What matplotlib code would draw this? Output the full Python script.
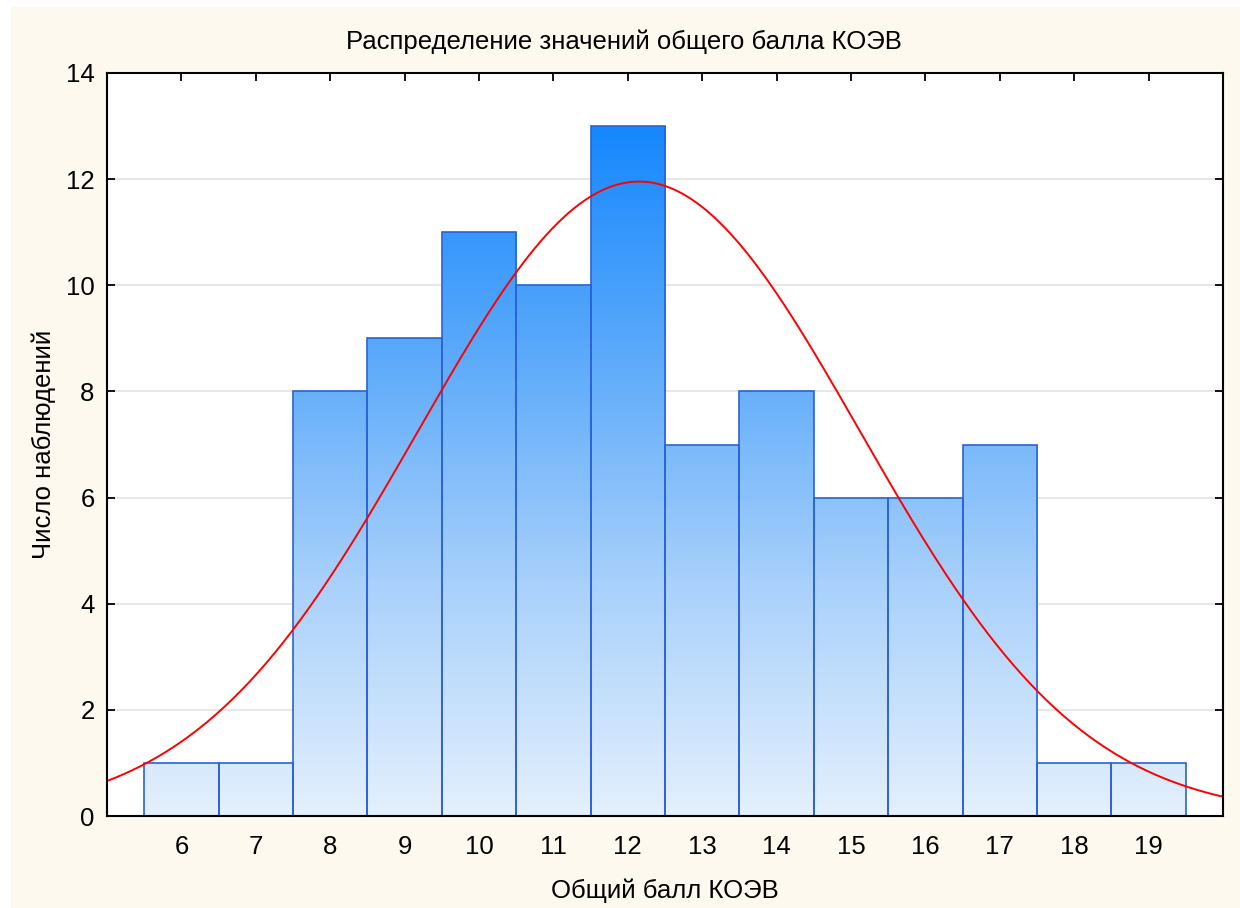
import numpy as np
import matplotlib.pyplot as plt
from matplotlib.patches import Rectangle
from matplotlib.colors import LinearSegmentedColormap

plt.rcParams['font.family'] = ['Liberation Sans', 'DejaVu Sans']

# частоты по баллам КОЭВ
scores = [6, 7, 8, 9, 10, 11, 12, 13, 14, 15, 16, 17, 18, 19]
counts = [1, 1, 8, 9, 11, 10, 13, 7, 8, 6, 6, 7, 1, 1]

# параметры нормальной кривой
mean_score = 12.15
sd_score = 2.97
n_obs = sum(counts)
bin_width = 1.0

fig = plt.figure(figsize=(12.4, 9.08), dpi=100, facecolor='white')
# кремовый фон с белой полосой слева и сверху
fig.patches.append(Rectangle((11 / 1240, 0), 1, 1 - 7 / 908, transform=fig.transFigure,
                             facecolor='#fef9ee', edgecolor='none', zorder=-10))

ax = fig.add_axes([107 / 1240, 1 - 816 / 908, (1223 - 107) / 1240, (816 - 73) / 908])
ax.set_facecolor('white')

ymax_bar = max(counts)
cmap = LinearSegmentedColormap.from_list('bars', ['#e4f0fd', '#a9d1fb', '#5caafa', '#1687fe'])
grad = np.linspace(0, 1, 256).reshape(-1, 1)

for s, c in zip(scores, counts):
    left = s - bin_width / 2
    rect = Rectangle((left, 0), bin_width, c, facecolor='none',
                     edgecolor='#2b62d6', linewidth=1.2, zorder=3)
    ax.add_patch(rect)
    img = ax.imshow(grad, cmap=cmap, origin='lower', aspect='auto',
                    extent=(left, left + bin_width, 0, ymax_bar), zorder=2,
                    interpolation='bilinear')
    img.set_clip_path(rect)

x = np.linspace(5, 20, 400)
y = n_obs * bin_width / (sd_score * np.sqrt(2 * np.pi)) * np.exp(-(x - mean_score) ** 2 / (2 * sd_score ** 2))
ax.plot(x, y, color='#ff0000', linewidth=1.4, zorder=4)

ax.set_xlim(5, 20)
ax.set_ylim(0, 14)
ax.set_xticks(scores)
ax.set_yticks(range(0, 15, 2))
ax.yaxis.grid(True, color='#e3e3e3', linewidth=1.2, zorder=1)
ax.set_axisbelow(True)
ax.tick_params(direction='in', length=6, width=1.3, labelsize=18.5, top=True, right=True,
               pad=9, colors='black')
ax.tick_params(axis='x', pad=14)
for sp in ax.spines.values():
    sp.set_linewidth(1.5)
    sp.set_zorder(5)

fig.text(0.503, 1 - 42 / 908, 'Распределение значений общего балла КОЭВ',
         fontsize=18.5, ha='center', va='center')
ax.set_xlabel('Общий балл КОЭВ', fontsize=18.5, labelpad=14)
ax.set_ylabel('Число наблюдений', fontsize=18.5)
ax.yaxis.set_label_coords(-0.046, 0.5)

fig.savefig('out.png', dpi=100, facecolor=fig.get_facecolor())
